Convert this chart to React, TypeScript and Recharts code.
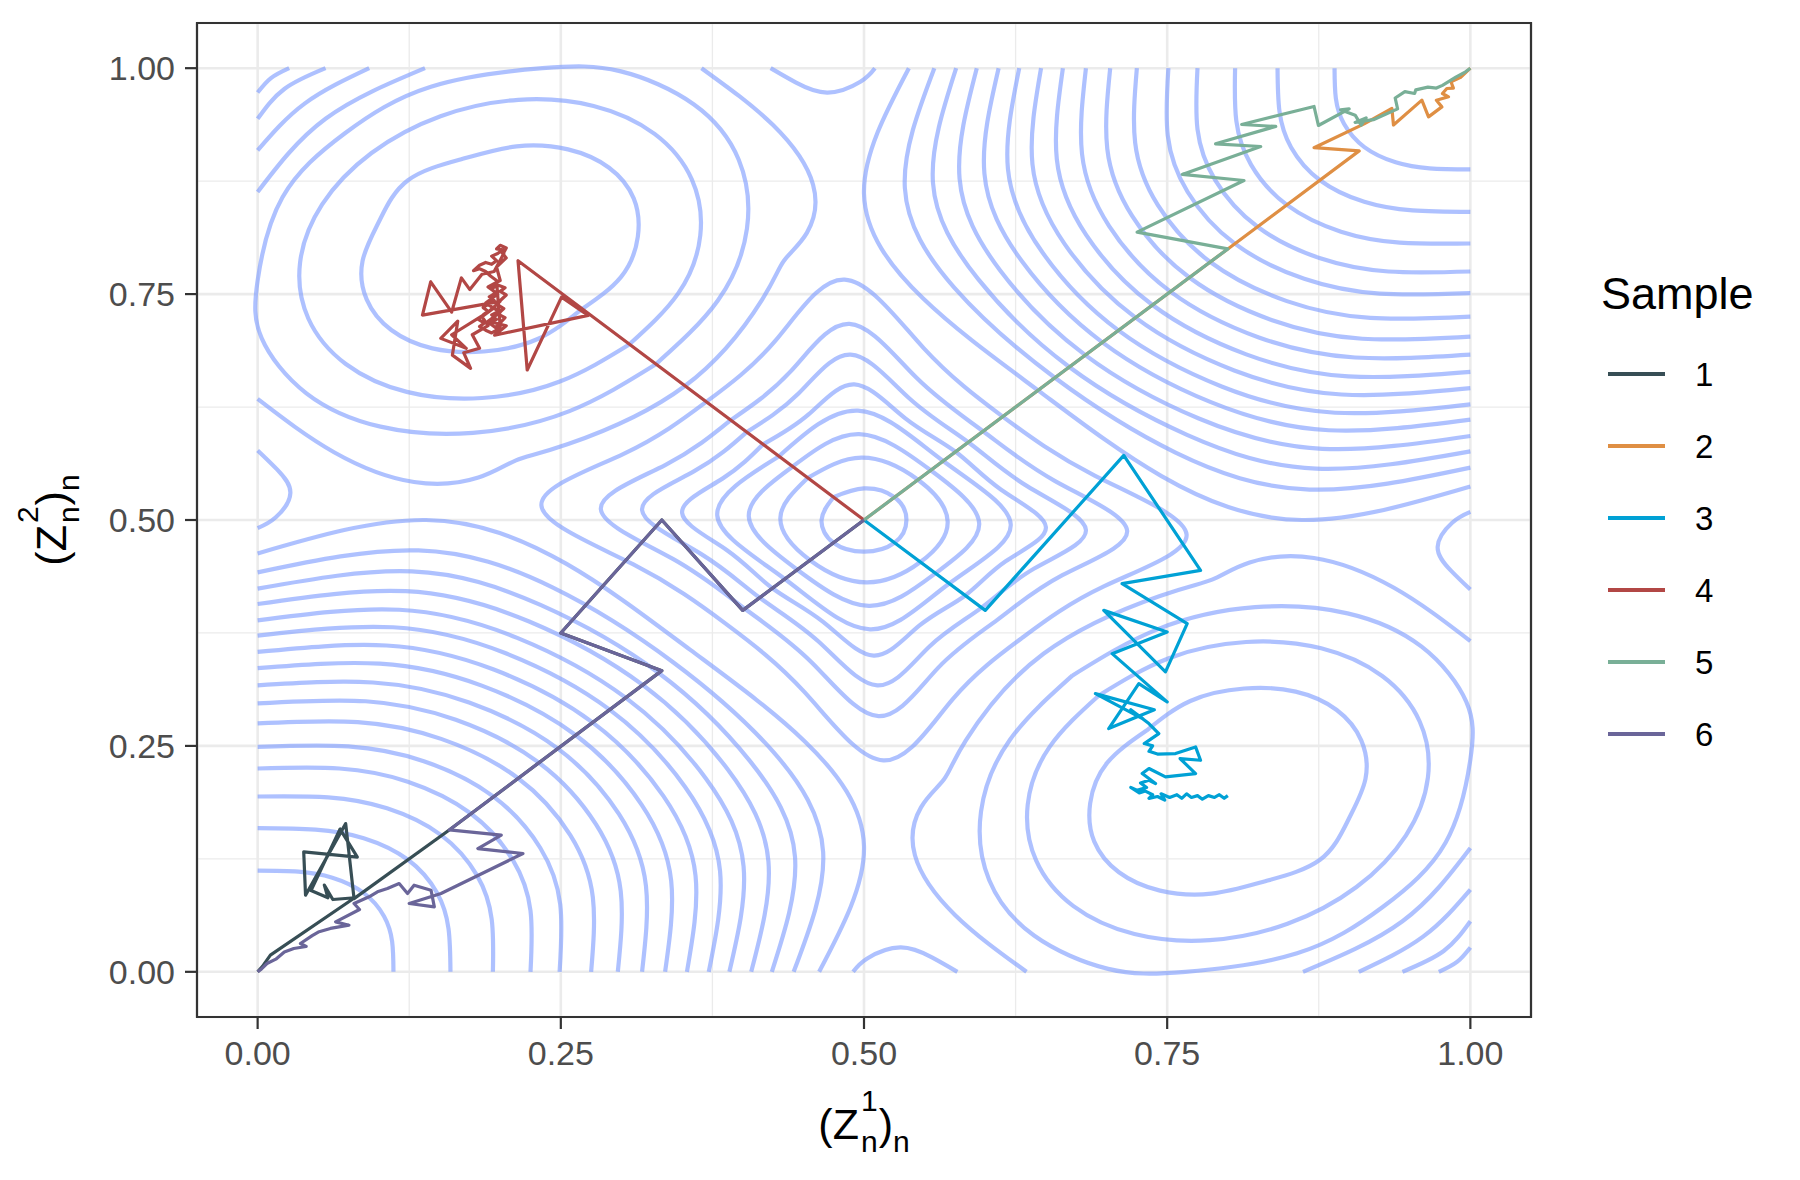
import React from "react";
import {
  CartesianGrid,
  Legend,
  Line,
  LineChart,
  ReferenceArea,
  XAxis,
  YAxis,
} from "recharts";

type Pt = [number, number];

const FONT = '"Liberation Sans", Arial, Helvetica, sans-serif';
const W = 1792;
const H = 1172;

const AXIS_TICKS = [0, 0.25, 0.5, 0.75, 1];
const MINOR_TICKS = [0.125, 0.375, 0.625, 0.875];

const SAMPLE_NAMES = ["1", "2", "3", "4", "5", "6"];
const SAMPLE_COLORS = ["#374E55", "#DF8F44", "#00A1D5", "#B24745", "#79AF97", "#6A6599"];

const CONTOUR_COLOR = "#7898FF";

// arcs around the (0,0) corner
const LOW_CORNER_ARCS: Pt[][] = [
  [[0, 0.112], [0.0336, 0.1109], [0.0616, 0.1042], [0.0874, 0.0874], [0.1042, 0.0616], [0.1109, 0.0336], [0.112, 0]],
  [[0, 0.159], [0.0477, 0.1574], [0.0875, 0.1479], [0.124, 0.124], [0.1479, 0.0875], [0.1574, 0.0477], [0.159, 0]],
  [[0, 0.194], [0.0582, 0.193], [0.1067, 0.1809], [0.1513, 0.1513], [0.1809, 0.1067], [0.193, 0.0582], [0.194, 0]],
  [[0, 0.225], [0.0675, 0.225], [0.1238, 0.2104], [0.1755, 0.1755], [0.2104, 0.1238], [0.225, 0.0675], [0.225, 0]],
  [[0, 0.249], [0.0747, 0.2495], [0.137, 0.2331], [0.1942, 0.1942], [0.2331, 0.137], [0.2495, 0.0747], [0.249, 0]],
  [[0, 0.275], [0.0825, 0.2764], [0.1513, 0.2578], [0.2145, 0.2145], [0.2578, 0.1513], [0.2764, 0.0825], [0.275, 0]],
  [[0, 0.297], [0.0891, 0.2994], [0.1634, 0.2789], [0.2317, 0.2317], [0.2789, 0.1634], [0.2994, 0.0891], [0.297, 0]],
  [[0, 0.317], [0.0951, 0.3202], [0.1744, 0.298], [0.2473, 0.2473], [0.298, 0.1744], [0.3202, 0.0951], [0.317, 0]],
  [[0, 0.336], [0.1008, 0.341], [0.1848, 0.3167], [0.2621, 0.2621], [0.3167, 0.1848], [0.341, 0.1008], [0.336, 0]],
  [[0, 0.354], [0.1062, 0.3611], [0.1947, 0.3345], [0.2761, 0.2761], [0.3345, 0.1947], [0.3611, 0.1062], [0.354, 0]],
  [[0, 0.372], [0.1116, 0.3813], [0.2046, 0.3525], [0.2902, 0.2902], [0.3525, 0.2046], [0.3813, 0.1116], [0.372, 0]],
  [[0, 0.389], [0.1167, 0.4007], [0.214, 0.3696], [0.3034, 0.3034], [0.3696, 0.214], [0.4007, 0.1167], [0.389, 0]],
  [[0, 0.407], [0.1221, 0.4212], [0.2239, 0.3877], [0.3175, 0.3175], [0.3877, 0.2239], [0.4212, 0.1221], [0.407, 0]],
  [[0, 0.424], [0.1272, 0.4431], [0.2332, 0.406], [0.3307, 0.3307], [0.406, 0.2332], [0.4431, 0.1272], [0.424, 0]],
  [[0, 0.442], [0.1326, 0.4663], [0.2431, 0.4254], [0.3426, 0.3426], [0.4254, 0.2431], [0.4663, 0.1326], [0.442, 0]],
  [[0, 0.463], [0.1389, 0.5], [0.2547, 0.4514], [0.3565, 0.3565], [0.4514, 0.2547], [0.5, 0.1389], [0.463, 0]],
];

// arcs around the (1,1) corner
const HIGH_CORNER_ARCS: Pt[][] = [
  [[1, 0.888], [0.9664, 0.8891], [0.9384, 0.8958], [0.9126, 0.9126], [0.8958, 0.9384], [0.8891, 0.9664], [0.888, 1]],
  [[1, 0.841], [0.9523, 0.8426], [0.9125, 0.8521], [0.876, 0.876], [0.8521, 0.9125], [0.8426, 0.9523], [0.841, 1]],
  [[1, 0.806], [0.9418, 0.807], [0.8933, 0.8191], [0.8487, 0.8487], [0.8191, 0.8933], [0.807, 0.9418], [0.806, 1]],
  [[1, 0.775], [0.9325, 0.775], [0.8762, 0.7896], [0.8245, 0.8245], [0.7896, 0.8762], [0.775, 0.9325], [0.775, 1]],
  [[1, 0.751], [0.9253, 0.7505], [0.863, 0.7669], [0.8058, 0.8058], [0.7669, 0.863], [0.7505, 0.9253], [0.751, 1]],
  [[1, 0.725], [0.9175, 0.7236], [0.8487, 0.7422], [0.7855, 0.7855], [0.7422, 0.8487], [0.7236, 0.9175], [0.725, 1]],
  [[1, 0.703], [0.9109, 0.7006], [0.8366, 0.7211], [0.7683, 0.7683], [0.7211, 0.8366], [0.7006, 0.9109], [0.703, 1]],
  [[1, 0.683], [0.9049, 0.6798], [0.8256, 0.702], [0.7527, 0.7527], [0.702, 0.8256], [0.6798, 0.9049], [0.683, 1]],
  [[1, 0.664], [0.8992, 0.659], [0.8152, 0.6833], [0.7379, 0.7379], [0.6833, 0.8152], [0.659, 0.8992], [0.664, 1]],
  [[1, 0.646], [0.8938, 0.6389], [0.8053, 0.6655], [0.7239, 0.7239], [0.6655, 0.8053], [0.6389, 0.8938], [0.646, 1]],
  [[1, 0.628], [0.8884, 0.6187], [0.7954, 0.6475], [0.7098, 0.7098], [0.6475, 0.7954], [0.6187, 0.8884], [0.628, 1]],
  [[1, 0.611], [0.8833, 0.5993], [0.786, 0.6304], [0.6966, 0.6966], [0.6304, 0.786], [0.5993, 0.8833], [0.611, 1]],
  [[1, 0.593], [0.8779, 0.5788], [0.7761, 0.6123], [0.6825, 0.6825], [0.6123, 0.7761], [0.5788, 0.8779], [0.593, 1]],
  [[1, 0.576], [0.8728, 0.5569], [0.7668, 0.594], [0.6693, 0.6693], [0.594, 0.7668], [0.5569, 0.8728], [0.576, 1]],
  [[1, 0.558], [0.8674, 0.5337], [0.7569, 0.5746], [0.6574, 0.6574], [0.5746, 0.7569], [0.5337, 0.8674], [0.558, 1]],
  [[1, 0.537], [0.8611, 0.5], [0.7453, 0.5486], [0.6435, 0.6435], [0.5486, 0.7453], [0.5, 0.8611], [0.537, 1]],
];

// closed rings around the centre (0.5, 0.5)
const CENTER_RINGS: Pt[][] = [
  [[0.4748, 0.5252], [0.465, 0.5], [0.4748, 0.4748], [0.5, 0.465], [0.5252, 0.4748], [0.535, 0.5], [0.5252, 0.5252], [0.5, 0.535], [0.4748, 0.5252]],
  [[0.4535, 0.5465], [0.431, 0.502], [0.4555, 0.4555], [0.502, 0.431], [0.5465, 0.4535], [0.569, 0.498], [0.5445, 0.5445], [0.498, 0.569], [0.4535, 0.5465]],
  [[0.441, 0.559], [0.405, 0.504], [0.445, 0.445], [0.504, 0.405], [0.559, 0.441], [0.595, 0.496], [0.555, 0.555], [0.496, 0.595], [0.441, 0.559]],
  [[0.4297, 0.5703], [0.379, 0.505], [0.4347, 0.4347], [0.505, 0.379], [0.5703, 0.4297], [0.621, 0.495], [0.5653, 0.5653], [0.495, 0.621], [0.4297, 0.5703]],
  [[0.4165, 0.5835], [0.3833, 0.5458], [0.35, 0.508], [0.3873, 0.4663], [0.4245, 0.4245], [0.4663, 0.3873], [0.508, 0.35], [0.5458, 0.3833], [0.5835, 0.4165], [0.6168, 0.4543], [0.65, 0.492], [0.6128, 0.5338], [0.5755, 0.5755], [0.5338, 0.6128], [0.492, 0.65], [0.4543, 0.6168], [0.4165, 0.5835]],
  [[0.403, 0.597], [0.36, 0.554], [0.317, 0.511], [0.3655, 0.4625], [0.414, 0.414], [0.4625, 0.3655], [0.511, 0.317], [0.554, 0.36], [0.597, 0.403], [0.64, 0.446], [0.683, 0.489], [0.6345, 0.5375], [0.586, 0.586], [0.5375, 0.6345], [0.489, 0.683], [0.446, 0.64], [0.403, 0.597]],
  [[0.3898, 0.6102], [0.3364, 0.5611], [0.283, 0.512], [0.3424, 0.4569], [0.4018, 0.4018], [0.4569, 0.3424], [0.512, 0.283], [0.5611, 0.3364], [0.6102, 0.3898], [0.6636, 0.4389], [0.717, 0.488], [0.6576, 0.5431], [0.5982, 0.5982], [0.5431, 0.6576], [0.488, 0.717], [0.4389, 0.6636], [0.3898, 0.6102]],
  [[0.3696, 0.6304], [0.3018, 0.5732], [0.234, 0.516], [0.3098, 0.4508], [0.3856, 0.3856], [0.4508, 0.3098], [0.516, 0.234], [0.5732, 0.3018], [0.6304, 0.3696], [0.6982, 0.4268], [0.766, 0.484], [0.6902, 0.5492], [0.6144, 0.6144], [0.5492, 0.6902], [0.484, 0.766], [0.4268, 0.6982], [0.3696, 0.6304]],
];

// rings around the upper-left mode
const UPPER_LEFT_RINGS: Pt[][] = [
  [[0.267, 0.733], [0.2997, 0.7691], [0.3135, 0.8135], [0.3101, 0.8559], [0.2898, 0.8898], [0.2559, 0.9101], [0.2135, 0.9135], [0.1691, 0.8997], [0.124, 0.876], [0.1003, 0.8309], [0.0865, 0.7865], [0.0899, 0.7441], [0.1102, 0.7102], [0.1441, 0.6899], [0.1865, 0.6865], [0.2309, 0.7003], [0.267, 0.733]],
  [[0.3061, 0.6939], [0.3468, 0.7508], [0.365, 0.815], [0.358, 0.877], [0.3273, 0.9273], [0.277, 0.9582], [0.215, 0.965], [0.1508, 0.9468], [0.0939, 0.9061], [0.0532, 0.8492], [0.035, 0.785], [0.0418, 0.723], [0.0727, 0.6727], [0.123, 0.6418], [0.185, 0.635], [0.2492, 0.6532], [0.3061, 0.6939]],
  [[0.328, 0.672], [0.3795, 0.7429], [0.4035, 0.8225], [0.3967, 0.8987], [0.3598, 0.9598], [0.2987, 0.9967], [0.235, 1], [0.1429, 0.9795], [0.072, 0.928], [0.0205, 0.8571], [0, 0.765], [0.0033, 0.7013], [0.0402, 0.6402], [0.1013, 0.6033], [0.1775, 0.5965], [0.2571, 0.6205], [0.328, 0.672]],
  [[0, 0.634], [0.063, 0.575], [0.129, 0.542], [0.182, 0.547], [0.213, 0.566], [0.256, 0.584], [0.352, 0.648], [0.416, 0.744], [0.434, 0.787], [0.453, 0.818], [0.458, 0.871], [0.425, 0.937], [0.366, 1]],
];

// rings around the lower-right mode
const LOWER_RIGHT_RINGS: Pt[][] = [
  [[0.733, 0.267], [0.7003, 0.2309], [0.6865, 0.1865], [0.6899, 0.1441], [0.7102, 0.1102], [0.7441, 0.0899], [0.7865, 0.0865], [0.8309, 0.1003], [0.876, 0.124], [0.8997, 0.1691], [0.9135, 0.2135], [0.9101, 0.2559], [0.8898, 0.2898], [0.8559, 0.3101], [0.8135, 0.3135], [0.7691, 0.2997], [0.733, 0.267]],
  [[0.6939, 0.3061], [0.6532, 0.2492], [0.635, 0.185], [0.642, 0.123], [0.6727, 0.0727], [0.723, 0.0418], [0.785, 0.035], [0.8492, 0.0532], [0.9061, 0.0939], [0.9468, 0.1508], [0.965, 0.215], [0.9582, 0.277], [0.9273, 0.3273], [0.877, 0.358], [0.815, 0.365], [0.7508, 0.3468], [0.6939, 0.3061]],
  [[0.672, 0.328], [0.6205, 0.2571], [0.5965, 0.1775], [0.6033, 0.1013], [0.6402, 0.0402], [0.7013, 0.0033], [0.765, 0], [0.8571, 0.0205], [0.928, 0.072], [0.9795, 0.1429], [1, 0.235], [0.9967, 0.2987], [0.9598, 0.3598], [0.8987, 0.3967], [0.8225, 0.4035], [0.7429, 0.3795], [0.672, 0.328]],
  [[1, 0.366], [0.937, 0.425], [0.871, 0.458], [0.818, 0.453], [0.787, 0.434], [0.744, 0.416], [0.648, 0.352], [0.584, 0.256], [0.566, 0.213], [0.547, 0.182], [0.542, 0.129], [0.575, 0.063], [0.634, 0]],
];

// short pieces cut by the panel edges
const EDGE_PIECES: Pt[][] = [
  [[0, 0.973], [0.011, 0.989], [0.026, 1]],
  [[0, 0.944], [0.022, 0.977], [0.056, 1]],
  [[0, 0.909], [0.039, 0.961], [0.092, 1]],
  [[0, 0.863], [0.056, 0.944], [0.138, 1]],
  [[1, 0.027], [0.989, 0.011], [0.974, 0]],
  [[1, 0.056], [0.978, 0.023], [0.944, 0]],
  [[1, 0.091], [0.961, 0.039], [0.908, 0]],
  [[1, 0.137], [0.944, 0.056], [0.862, 0]],
  [[0, 0.577], [0.016, 0.556], [0.027, 0.53], [0.015, 0.503], [0, 0.491]],
  [[0.423, 1], [0.444, 0.984], [0.47, 0.973], [0.497, 0.985], [0.509, 1]],
  [[1, 0.423], [0.984, 0.444], [0.973, 0.47], [0.985, 0.497], [1, 0.509]],
  [[0.577, 0], [0.556, 0.016], [0.53, 0.027], [0.503, 0.015], [0.491, 0]],
];

const SAMPLE_1: Pt[] = [
  [0.5, 0.5], [0.4, 0.4], [0.3333, 0.5], [0.25, 0.375], [0.3333, 0.3333], [0.158, 0.157],
  [0.0795, 0.081], [0.0726, 0.164], [0.0395, 0.0848], [0.038, 0.1327], [0.0822, 0.127],
  [0.068, 0.158], [0.044, 0.09], [0.058, 0.082], [0.055, 0.096], [0.062, 0.08], [0.08, 0.082],
  [0.0105, 0.0184], [0.004, 0.006], [0, 0],
];

const SAMPLE_2: Pt[] = [
  [0.5, 0.5], [0.8, 0.8], [0.9083, 0.9085], [0.8711, 0.912], [0.9124, 0.9384], [0.9353, 0.9554],
  [0.9366, 0.9371], [0.96, 0.9646], [0.9655, 0.9461], [0.9765, 0.9572], [0.972, 0.9645],
  [0.982, 0.9683], [0.977, 0.972], [0.9806, 0.9775], [0.986, 0.978], [0.984, 0.985],
  [0.992, 0.99], [1, 1],
];

const SAMPLE_3: Pt[] = [
  [0.5, 0.5], [0.6, 0.4], [0.7142, 0.5715], [0.7775, 0.4443], [0.7128, 0.4296], [0.7665, 0.3853],
  [0.7486, 0.3319], [0.6977, 0.4], [0.75, 0.376], [0.7046, 0.3521], [0.75, 0.2987], [0.7266, 0.3189],
  [0.7018, 0.2692], [0.7394, 0.29], [0.6908, 0.3079], [0.73, 0.28], [0.72, 0.29], [0.7349, 0.2747],
  [0.7431, 0.2636], [0.7311, 0.2526], [0.738, 0.25], [0.735, 0.244], [0.742, 0.241], [0.7569, 0.2415],
  [0.7734, 0.2489], [0.7775, 0.2341], [0.7606, 0.236], [0.7734, 0.2194], [0.7486, 0.2157],
  [0.735, 0.225], [0.7294, 0.2194], [0.7404, 0.2083], [0.735, 0.212], [0.728, 0.209], [0.733, 0.204],
  [0.725, 0.201], [0.72, 0.204], [0.727, 0.198], [0.732, 0.2], [0.738, 0.196], [0.735, 0.192],
  [0.742, 0.194], [0.748, 0.19], [0.745, 0.197], [0.752, 0.193], [0.758, 0.196], [0.762, 0.192],
  [0.766, 0.197], [0.77, 0.193], [0.775, 0.195], [0.779, 0.191], [0.784, 0.195], [0.789, 0.193],
  [0.793, 0.196], [0.797, 0.192], [0.8, 0.195],
];

const SAMPLE_4: Pt[] = [
  [0.5, 0.5], [0.2147, 0.787], [0.2223, 0.666], [0.2506, 0.7467], [0.2726, 0.7264], [0.1954, 0.7045],
  [0.205, 0.715], [0.19, 0.72], [0.2, 0.73], [0.188, 0.74], [0.198, 0.75], [0.19, 0.758], [0.2, 0.765],
  [0.197, 0.78], [0.205, 0.79], [0.199, 0.8], [0.203, 0.795], [0.195, 0.775], [0.185, 0.772],
  [0.175, 0.755], [0.168, 0.768], [0.16, 0.73], [0.1427, 0.7636], [0.1359, 0.7268], [0.2, 0.742],
  [0.19, 0.73], [0.16, 0.705], [0.172, 0.69], [0.151, 0.701], [0.165, 0.72], [0.1606, 0.6825],
  [0.1756, 0.6678], [0.17, 0.685], [0.183, 0.69], [0.177, 0.705], [0.19, 0.715], [0.185, 0.725],
  [0.195, 0.735], [0.199, 0.731], [0.193, 0.727], [0.197, 0.722], [0.191, 0.718], [0.196, 0.713],
  [0.2, 0.718], [0.204, 0.724], [0.198, 0.728], [0.203, 0.734], [0.197, 0.739], [0.201, 0.744],
  [0.205, 0.749], [0.2, 0.753], [0.204, 0.757], [0.198, 0.76], [0.193, 0.756], [0.196, 0.751],
  [0.191, 0.747], [0.195, 0.743], [0.19, 0.739], [0.186, 0.735], [0.19, 0.731], [0.186, 0.727],
  [0.182, 0.722], [0.187, 0.718], [0.183, 0.714], [0.188, 0.71], [0.193, 0.707], [0.197, 0.71],
  [0.2, 0.714], [0.197, 0.765], [0.192, 0.77], [0.188, 0.775], [0.183, 0.778], [0.178, 0.776],
  [0.183, 0.782], [0.188, 0.785], [0.193, 0.783], [0.197, 0.787], [0.193, 0.792], [0.198, 0.795],
  [0.202, 0.799], [0.197, 0.8], [0.2, 0.804], [0.205, 0.801], [0.203, 0.796],
];

const SAMPLE_5: Pt[] = [
  [0.5, 0.5], [0.8, 0.8], [0.7252, 0.8186], [0.8133, 0.8757], [0.7624, 0.8824], [0.8271, 0.9133],
  [0.7899, 0.9163], [0.8395, 0.9355], [0.8114, 0.9377], [0.8711, 0.9576], [0.8747, 0.9366],
  [0.9, 0.955], [0.893, 0.954], [0.905, 0.948], [0.91, 0.937], [0.914, 0.945], [0.905, 0.94],
  [0.92, 0.943], [0.94, 0.955], [0.938, 0.967], [0.946, 0.974], [0.954, 0.972], [0.955, 0.976],
  [0.965, 0.979], [0.972, 0.978], [0.977, 0.981], [0.988, 0.99], [0.996, 0.996], [1, 1],
];

const SAMPLE_6: Pt[] = [
  [0.5, 0.5], [0.4, 0.4], [0.3333, 0.5], [0.25, 0.375], [0.3333, 0.3333], [0.158, 0.157],
  [0.2009, 0.1512], [0.1816, 0.1364], [0.2188, 0.1309], [0.1512, 0.0867], [0.125, 0.0756],
  [0.1457, 0.0719], [0.143, 0.0903], [0.129, 0.0959], [0.1236, 0.0867], [0.1167, 0.0977],
  [0.107, 0.0922], [0.0988, 0.0885], [0.0919, 0.083], [0.0795, 0.0756], [0.084, 0.069],
  [0.0643, 0.0553], [0.0753, 0.0516], [0.06, 0.048], [0.05, 0.044], [0.045, 0.04],
  [0.0353, 0.0313], [0.04, 0.028], [0.0298, 0.0258], [0.022, 0.022], [0.015, 0.014],
  [0.0077, 0.0092], [0.003, 0.003], [0, 0],
];

const SAMPLES = [SAMPLE_1, SAMPLE_2, SAMPLE_3, SAMPLE_4, SAMPLE_5, SAMPLE_6];

const toRows = (pts: Pt[]) => pts.map(([x, y]) => ({ x, y }));

const contourRows = [
  ...LOW_CORNER_ARCS,
  ...HIGH_CORNER_ARCS,
  ...CENTER_RINGS,
  ...UPPER_LEFT_RINGS,
  ...LOWER_RIGHT_RINGS,
  ...EDGE_PIECES,
].map(toRows);

function ZTitle({ x, y, sup, vertical }: { x: number; y: number; sup: string; vertical?: boolean }) {
  return (
    <text
      x={x}
      y={y}
      textAnchor="middle"
      fontSize={43}
      fontFamily={FONT}
      fill="#000000"
      transform={vertical ? `rotate(-90 ${x} ${y})` : undefined}
    >
      (Z
      <tspan fontSize={30} dx={2} dy={-28}>
        {sup}
      </tspan>
      <tspan fontSize={30} dx={-16.7} dy={41}>
        n
      </tspan>
      <tspan fontSize={43} dx={1} dy={-13}>
        )
      </tspan>
      <tspan fontSize={30} dy={13}>
        n
      </tspan>
    </text>
  );
}

const renderXTitle = (props: any) => {
  const vb = props.viewBox || {};
  return <ZTitle x={vb.x + vb.width / 2} y={vb.y + 122} sup="1" />;
};

const renderYTitle = (props: any) => {
  const vb = props.viewBox || {};
  return <ZTitle x={58} y={vb.y + vb.height / 2} sup="2" vertical />;
};

function SampleLegend(props: any) {
  const items = (props.payload || [])
    .filter((p: any) => SAMPLE_NAMES.includes(String(p.value)))
    .sort((a: any, b: any) => Number(a.value) - Number(b.value));
  return (
    <svg width={200} height={520} style={{ display: "block" }}>
      <text x={0} y={41} fontSize={45} fontFamily={FONT} fill="#000000">
        Sample
      </text>
      {items.map((it: any, i: number) => {
        const cy = 106 + i * 72;
        return (
          <g key={it.value}>
            <line x1={7} x2={64} y1={cy} y2={cy} stroke={it.color} strokeWidth={4} />
            <text x={94} y={cy} dy="0.36em" fontSize={33} fontFamily={FONT} fill="#000000">
              {it.value}
            </text>
          </g>
        );
      })}
    </svg>
  );
}

const tickStyle = { fill: "#4D4D4D", fontSize: 34, fontFamily: FONT };
const fmt = (v: number) => v.toFixed(2);

export default function App() {
  return (
    <div style={{ width: W, height: H }}>
      <LineChart width={W} height={H} margin={{ top: 15, right: 269, bottom: 0, left: 0 }}>
        <CartesianGrid
          stroke="#EBEBEB"
          strokeWidth={1.3}
          horizontalValues={MINOR_TICKS}
          verticalValues={MINOR_TICKS}
        />
        <CartesianGrid stroke="#EBEBEB" strokeWidth={2.6} />
        <XAxis
          type="number"
          dataKey="x"
          domain={[-0.05, 1.05]}
          ticks={AXIS_TICKS}
          allowDataOverflow
          tickFormatter={fmt}
          tick={tickStyle}
          tickLine={{ stroke: "#333333", strokeWidth: 2.2 }}
          axisLine={false}
          tickSize={12}
          tickMargin={12}
          height={163}
          label={{ content: renderXTitle }}
        />
        <YAxis
          type="number"
          domain={[-0.05, 1.05]}
          ticks={AXIS_TICKS}
          allowDataOverflow
          tickFormatter={fmt}
          tick={tickStyle}
          tickLine={{ stroke: "#333333", strokeWidth: 2.2 }}
          axisLine={false}
          tickSize={12}
          tickMargin={10}
          width={189}
          label={{ content: renderYTitle }}
        />
        {contourRows.map((rows, i) => (
          <Line
            key={`contour-${i}`}
            data={rows}
            dataKey="y"
            type="natural"
            stroke={CONTOUR_COLOR}
            strokeOpacity={0.6}
            strokeWidth={4.2}
            dot={false}
            activeDot={false}
            legendType="none"
            isAnimationActive={false}
          />
        ))}
        {SAMPLES.map((pts, i) => (
          <Line
            key={`sample-${i}`}
            name={SAMPLE_NAMES[i]}
            data={toRows(pts)}
            dataKey="y"
            type="linear"
            stroke={SAMPLE_COLORS[i]}
            strokeWidth={3.2}
            strokeLinejoin="round"
            dot={false}
            activeDot={false}
            isAnimationActive={false}
          />
        ))}
        <ReferenceArea
          x1={-0.05}
          x2={1.05}
          y1={-0.05}
          y2={1.05}
          fill="none"
          fillOpacity={0}
          stroke="#333333"
          strokeWidth={2.2}
          ifOverflow="visible"
        />
        <Legend
          layout="vertical"
          align="center"
          verticalAlign="middle"
          width={200}
          height={520}
          content={SampleLegend}
          wrapperStyle={{ left: 1593, top: 260, width: 200, height: 520 }}
        />
      </LineChart>
    </div>
  );
}
